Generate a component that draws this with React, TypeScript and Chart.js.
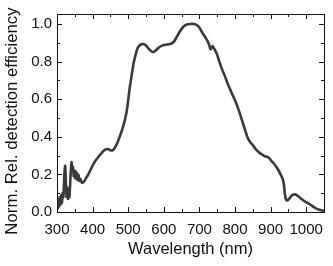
import React, { useEffect, useRef } from "react";
import { Chart, registerables } from "chart.js";

Chart.register(...registerables);

const wavelengths = [
  300, 302, 304, 306, 308, 310, 312, 314, 316, 318, 321, 323, 325, 327, 329, 331, 333, 335, 338, 341,
  343, 345, 347, 349, 351, 353, 355, 357, 359, 361, 363, 366, 370, 375, 380, 388, 397, 407, 417, 426,
  435, 443, 450, 456, 462, 470, 478, 485, 492, 497, 501, 505, 510, 515, 520, 525, 530, 537, 543, 550,
  557, 565, 571, 578, 586, 595, 604, 612, 620, 628, 636, 645, 655, 665, 675, 685, 692, 698, 704, 710,
  718, 724, 728, 731, 734, 737, 740, 748, 756, 764, 772, 780, 788, 795, 802, 809, 816, 826, 835, 842,
  849, 856, 863, 870, 877, 882, 889, 896, 902, 909, 915, 922, 928, 933, 937, 940, 943, 947, 952, 958,
  964, 970, 977, 985, 995, 1004, 1015, 1025, 1035, 1045, 1050,
];

const efficiency = [
  0.06, 0.02, 0.07, 0.03, 0.08, 0.04, 0.09, 0.05, 0.10, 0.08, 0.21, 0.245, 0.15, 0.08, 0.13, 0.07, 0.11, 0.08, 0.19, 0.265,
  0.22, 0.24, 0.19, 0.22, 0.18, 0.215, 0.175, 0.205, 0.17, 0.195, 0.165, 0.175, 0.155, 0.16, 0.175, 0.20, 0.235, 0.27, 0.295, 0.315,
  0.332, 0.335, 0.328, 0.328, 0.34, 0.37, 0.41, 0.45, 0.50, 0.55, 0.61, 0.67, 0.73, 0.79, 0.83, 0.865, 0.882, 0.892, 0.893, 0.885,
  0.87, 0.855, 0.851, 0.86, 0.875, 0.885, 0.89, 0.892, 0.895, 0.905, 0.93, 0.96, 0.985, 0.997, 1.0, 1.0, 0.995, 0.985, 0.968, 0.948,
  0.925, 0.905, 0.885, 0.866, 0.872, 0.882, 0.874, 0.845, 0.80, 0.757, 0.72, 0.68, 0.645, 0.615, 0.585, 0.55, 0.51, 0.45, 0.397, 0.373,
  0.358, 0.34, 0.325, 0.313, 0.305, 0.298, 0.294, 0.287, 0.272, 0.258, 0.243, 0.222, 0.20, 0.181, 0.15, 0.10, 0.068, 0.062, 0.07, 0.085,
  0.093, 0.093, 0.085, 0.072, 0.058, 0.048, 0.035, 0.022, 0.013, 0.008, 0.007,
];

const xMajorTicks = [300, 400, 500, 600, 700, 800, 900, 1000];
const xMinorTicks = [350, 450, 550, 650, 750, 850, 950];
const yMajorTicks = [0, 0.2, 0.4, 0.6, 0.8, 1.0];
const yMinorTicks = [0.1, 0.3, 0.5, 0.7, 0.9];

const xTitle = "Wavelength (nm)";
const yTitle = "Norm. Rel. detection efficiency";

const FONT = "'Liberation Sans', Arial, sans-serif";

const framePlugin = {
  id: "frameTicks",
  afterDatasetsDraw(chart: any) {
    const { ctx, chartArea, scales } = chart;
    const { left, right, top, bottom } = chartArea;
    const x = scales.x;
    const y = scales.y;
    ctx.save();
    ctx.strokeStyle = "#111";
    ctx.lineWidth = 1;
    ctx.strokeRect(Math.round(left) + 0.5, Math.round(top) + 0.5, Math.round(right) - Math.round(left), Math.round(bottom) - Math.round(top));
    const major = 5;
    const minor = 3;
    ctx.beginPath();
    const xt = (v: number, len: number) => {
      const px = Math.round(x.getPixelForValue(v)) + 0.5;
      ctx.moveTo(px, bottom);
      ctx.lineTo(px, bottom - len);
      ctx.moveTo(px, top);
      ctx.lineTo(px, top + len);
    };
    const yt = (v: number, len: number) => {
      const py = Math.round(y.getPixelForValue(v)) + 0.5;
      ctx.moveTo(left, py);
      ctx.lineTo(left + len, py);
      ctx.moveTo(right, py);
      ctx.lineTo(right - len, py);
    };
    xMajorTicks.forEach((v) => xt(v, major));
    xMinorTicks.forEach((v) => xt(v, minor));
    yMajorTicks.forEach((v) => yt(v, major));
    yMinorTicks.forEach((v) => yt(v, minor));
    ctx.stroke();
    // rotated y-axis title
    ctx.translate(12.5, 121);
    ctx.rotate(-Math.PI / 2);
    ctx.fillStyle = "#111";
    ctx.font = `16.8px ${FONT}`;
    ctx.textAlign = "center";
    ctx.textBaseline = "middle";
    ctx.fillText(yTitle, 0, 0);
    ctx.restore();
  },
};

export default function App() {
  const ref = useRef<HTMLCanvasElement | null>(null);

  useEffect(() => {
    document.body.style.margin = "0";
    const canvas = ref.current;
    if (!canvas) return;
    const chart = new Chart(canvas, {
      type: "line",
      data: {
        datasets: [
          {
            data: wavelengths.map((w, i) => ({ x: w, y: efficiency[i] })),
            borderColor: "#3a3a3a",
            borderWidth: 2.6,
            pointRadius: 0,
            tension: 0.25,
            fill: false,
          },
        ],
      },
      options: {
        animation: false,
        responsive: false,
        devicePixelRatio: 1,
        layout: { padding: { top: 13, right: 9, left: 0, bottom: 0 } },
        plugins: { legend: { display: false }, tooltip: { enabled: false } },
        scales: {
          x: {
            type: "linear",
            min: 300,
            max: 1050,
            grid: { display: false, drawTicks: false },
            border: { display: false },
            afterBuildTicks: (s: any) => {
              s.ticks = xMajorTicks.map((v) => ({ value: v }));
            },
            afterFit: (s: any) => {
              s.height = 54;
            },
            ticks: {
              padding: 9,
              color: "#111",
              font: { family: FONT, size: 15 },
              maxRotation: 0,
              autoSkip: false,
              callback: (v: any) => String(v),
            },
            title: {
              display: true,
              text: xTitle,
              color: "#111",
              font: { family: FONT, size: 16.5 },
              padding: { top: 0, bottom: 6.5 },
            },
          },
          y: {
            min: 0,
            max: 1.053,
            grid: { display: false, drawTicks: false },
            border: { display: false },
            afterBuildTicks: (s: any) => {
              s.ticks = yMajorTicks.map((v) => ({ value: v }));
            },
            afterFit: (s: any) => {
              s.width = 57;
            },
            ticks: {
              padding: 5,
              color: "#111",
              font: { family: FONT, size: 15 },
              autoSkip: false,
              callback: (v: any) => Number(v).toFixed(1),
            },
            title: { display: false },
          },
        },
      },
      plugins: [framePlugin],
    });
    return () => chart.destroy();
  }, []);

  return (
    <div style={{ position: "relative", width: 333, height: 266 }}>
      <canvas ref={ref} width={333} height={266} style={{ display: "block", width: 333, height: 266 }} />
    </div>
  );
}
